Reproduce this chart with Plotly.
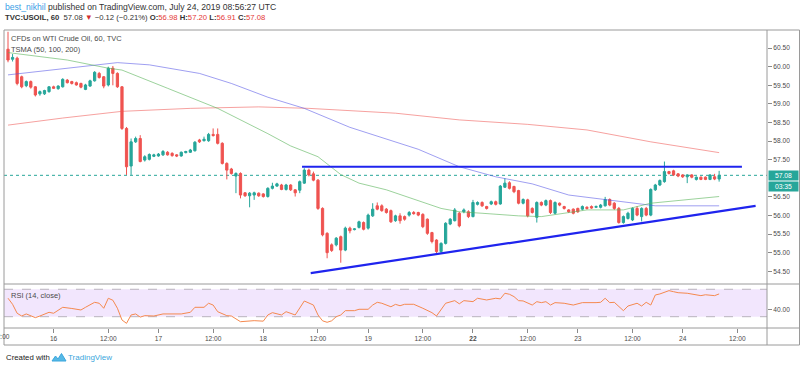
import plotly.graph_objects as go

# ---------------- data (hourly bars, index 0 = Jul 15 13:00 UTC) ----------------
opens = [60.47, 60.20, 60.23, 59.73, 59.49, 59.60, 59.46, 59.27, 59.27, 59.33,
         59.46, 59.41, 59.46, 59.64, 59.60, 59.57, 59.55, 59.39, 59.48, 59.62,
         59.82, 59.73, 59.51, 59.96, 59.82, 59.46, 58.34, 57.33, 57.98, 58.07,
         57.49, 57.51, 57.59, 57.60, 57.63, 57.70, 57.67, 57.63, 57.60, 57.69,
         57.70, 57.74, 58.03, 58.01, 58.01, 58.18, 58.18, 57.94, 57.40, 57.25,
         57.06, 57.13, 56.61, 56.53, 56.55, 56.60, 56.58, 56.51, 56.73, 56.79,
         56.82, 56.70, 56.82, 56.69, 56.68, 56.87, 57.22, 57.12, 56.95, 56.19,
         55.52, 55.21, 55.21, 55.43, 55.07, 55.66, 55.62, 55.68, 55.81, 55.66,
         55.99, 56.26, 56.26, 56.17, 56.13, 55.86, 55.99, 55.97, 56.01, 56.08,
         56.08, 56.03, 55.90, 55.54, 55.34, 55.03, 55.25, 55.77, 55.86, 56.06,
         56.10, 56.10, 55.97, 56.30, 56.35, 56.24, 56.31, 56.37, 56.31, 56.76,
         56.88, 56.78, 56.67, 56.33, 56.42, 56.19, 55.95, 56.35, 56.28, 56.40,
         56.06, 56.33, 56.24, 56.15, 56.17, 56.19, 56.17, 56.22, 56.24, 56.22,
         56.22, 56.26, 56.43, 56.33, 56.19, 55.81, 55.92, 55.88, 56.19, 55.97,
         56.19, 56.01, 56.69, 56.82, 56.91, 57.18, 57.20, 57.12, 57.09, 57.04,
         57.09, 56.97, 57.03, 57.03, 56.97, 57.04, 56.98]
highs = [60.94, 60.34, 60.27, 59.76, 59.63, 59.63, 59.48, 59.36, 59.38, 59.48,
         59.49, 59.50, 59.69, 59.67, 59.62, 59.60, 59.57, 59.54, 59.65, 59.88,
         59.86, 59.75, 60.00, 60.02, 59.85, 59.48, 58.38, 58.07, 58.12, 58.16,
         57.62, 57.67, 57.66, 57.68, 57.76, 57.73, 57.70, 57.65, 57.72, 57.74,
         57.79, 58.00, 58.06, 58.12, 58.22, 58.34, 58.34, 57.97, 57.43, 57.28,
         57.16, 57.16, 56.63, 56.63, 56.64, 56.62, 56.60, 56.76, 56.88, 56.88,
         56.85, 56.85, 56.84, 56.71, 56.94, 57.27, 57.26, 57.18, 56.98, 56.22,
         55.55, 55.25, 55.42, 55.46, 55.70, 55.70, 55.66, 55.86, 55.84, 56.05,
         56.33, 56.35, 56.30, 56.20, 56.16, 56.02, 56.06, 56.00, 56.12, 56.12,
         56.10, 56.06, 55.92, 55.56, 55.36, 55.28, 55.82, 55.93, 56.20, 56.10,
         56.19, 56.14, 56.42, 56.38, 56.38, 56.26, 56.40, 56.40, 56.82, 57.00,
         56.92, 56.80, 56.69, 56.46, 56.45, 56.22, 56.38, 56.38, 56.43, 56.43,
         56.38, 56.35, 56.26, 56.17, 56.19, 56.21, 56.27, 56.25, 56.27, 56.27,
         56.31, 56.50, 56.46, 56.36, 56.23, 56.00, 56.10, 56.22, 56.25, 56.22,
         56.23, 56.73, 56.85, 56.97, 57.45, 57.20, 57.23, 57.14, 57.11, 57.11,
         57.11, 57.05, 57.05, 57.05, 57.11, 57.12, 57.20]
lows = [60.12, 60.14, 59.50, 59.42, 59.45, 59.41, 59.20, 59.22, 59.24, 59.30,
        59.40, 59.38, 59.44, 59.55, 59.52, 59.49, 59.42, 59.37, 59.46, 59.60,
        59.68, 59.42, 59.47, 59.50, 59.43, 58.30, 57.09, 57.09, 57.95, 57.43,
        57.45, 57.48, 57.57, 57.58, 57.60, 57.61, 57.58, 57.57, 57.58, 57.67,
        57.68, 57.72, 57.95, 57.99, 57.98, 58.12, 57.91, 57.37, 56.97, 57.10,
        56.60, 56.46, 56.50, 56.22, 56.42, 56.50, 56.48, 56.48, 56.70, 56.77,
        56.68, 56.67, 56.66, 56.51, 56.60, 56.85, 57.05, 56.92, 56.15, 55.44,
        54.85, 55.02, 55.17, 54.73, 55.04, 55.52, 55.60, 55.65, 55.60, 55.62,
        55.96, 56.14, 56.10, 56.05, 55.80, 55.83, 55.78, 55.86, 55.97, 56.02,
        55.98, 55.66, 55.48, 55.25, 54.98, 54.99, 55.22, 55.74, 55.84, 55.68,
        56.06, 55.93, 55.95, 56.27, 56.23, 56.16, 56.28, 56.27, 56.29, 56.74,
        56.70, 56.60, 56.30, 56.30, 55.95, 56.05, 55.81, 56.25, 56.25, 56.04,
        56.03, 56.25, 56.16, 56.07, 56.03, 56.07, 56.14, 56.16, 56.18, 56.20,
        56.19, 56.24, 56.25, 56.15, 55.78, 55.78, 55.89, 55.85, 55.98, 55.84,
        55.98, 55.98, 56.66, 56.79, 56.88, 57.10, 57.06, 57.03, 57.01, 56.87,
        57.00, 56.94, 56.95, 56.95, 56.95, 56.95, 56.91]
closes = [60.18, 60.25, 59.55, 59.46, 59.60, 59.45, 59.24, 59.33, 59.36, 59.46,
          59.42, 59.48, 59.66, 59.57, 59.55, 59.51, 59.45, 59.51, 59.62, 59.85,
          59.71, 59.48, 59.96, 59.82, 59.46, 58.34, 57.31, 57.98, 58.07, 57.45,
          57.58, 57.64, 57.63, 57.65, 57.72, 57.63, 57.61, 57.60, 57.70, 57.72,
          57.76, 57.97, 57.98, 58.05, 58.18, 58.15, 57.94, 57.40, 57.22, 57.13,
          57.13, 56.55, 56.53, 56.60, 56.61, 56.53, 56.51, 56.73, 56.79, 56.85,
          56.70, 56.82, 56.69, 56.61, 56.91, 57.22, 57.09, 56.95, 56.19, 55.48,
          55.00, 55.06, 55.39, 55.07, 55.66, 55.59, 55.64, 55.83, 55.63, 56.01,
          56.17, 56.17, 56.13, 56.08, 55.83, 55.99, 55.86, 55.90, 56.08, 56.05,
          56.01, 55.70, 55.52, 55.30, 55.03, 55.25, 55.79, 55.90, 56.15, 55.72,
          56.15, 55.97, 56.35, 56.35, 56.26, 56.19, 56.37, 56.30, 56.79, 56.87,
          56.73, 56.64, 56.33, 56.43, 55.99, 56.08, 56.35, 56.28, 56.40, 56.08,
          56.35, 56.28, 56.19, 56.10, 56.06, 56.10, 56.24, 56.19, 56.20, 56.24,
          56.28, 56.43, 56.28, 56.19, 55.81, 55.97, 56.06, 56.19, 56.01, 56.19,
          56.01, 56.70, 56.82, 56.94, 57.18, 57.13, 57.09, 57.06, 57.04, 57.09,
          57.03, 57.03, 56.97, 56.97, 57.09, 56.98, 57.08]

# moving averages read at selected bars
sma50_idx = [0, 13, 22, 25, 35, 46, 57, 62, 68, 73, 77, 83, 95, 99, 104, 112, 117, 123, 127, 135, 141, 156]
sma50_val = [60.38, 60.18, 59.96, 59.91, 59.42, 58.88, 58.20, 57.87, 57.58, 57.10, 56.87, 56.69,
             56.19, 56.10, 56.06, 55.99, 55.97, 56.09, 56.15, 56.15, 56.33, 56.51]
sma100_idx = [0, 13, 20, 24, 31, 42, 49, 57, 65, 75, 90, 99, 107, 115, 123, 131, 142, 156]
sma100_val = [59.78, 59.96, 60.05, 60.11, 60.05, 59.82, 59.55, 59.18, 58.88, 58.37, 57.78, 57.31,
              57.04, 56.85, 56.55, 56.42, 56.26, 56.26]
sma200_idx = [0, 12, 25, 40, 55, 66, 85, 99, 114, 127, 141, 156]
sma200_val = [58.43, 58.62, 58.80, 58.88, 58.92, 58.88, 58.75, 58.57, 58.45, 58.30, 57.98, 57.69]

# RSI(14) read at selected bars
rsi_idx = [0, 1, 2, 3, 4, 5, 6, 7, 9, 10, 12, 14, 16, 17, 19, 20, 21, 22, 23, 24, 25, 26, 27, 28,
           29, 30, 32, 34, 38, 40, 41, 43, 44, 45, 46, 48, 49, 51, 54, 56, 57, 58, 60, 61, 63, 65,
           67, 68, 69, 70, 71, 72, 73, 74, 76, 77, 79, 80, 81, 82, 84, 85, 86, 87, 89, 91, 93, 94,
           95, 96, 98, 99, 100, 102, 103, 105, 107, 108, 109, 110, 111, 112, 113, 115, 116, 117,
           118, 119, 120, 122, 124, 126, 129, 130, 131, 132, 133, 135, 136, 138, 139, 140, 141,
           142, 143, 145, 146, 147, 149, 150, 152, 153, 155, 156]
rsi_val = [57.0, 48.1, 35.0, 31.0, 34.0, 31.0, 28.6, 31.0, 36.4, 35.0, 43.7, 42.0, 39.8, 43.7, 51.0,
           49.6, 42.3, 56.9, 54.0, 42.3, 25.2, 20.3, 32.5, 34.0, 29.4, 31.5, 31.0, 34.0, 34.0, 36.4,
           43.7, 43.7, 49.6, 47.0, 37.3, 31.5, 31.0, 22.7, 24.2, 23.5, 32.5, 35.9, 32.5, 37.3, 32.5,
           52.9, 47.0, 32.5, 24.0, 21.8, 24.0, 30.0, 32.5, 38.8, 38.8, 40.8, 40.8, 47.0, 51.0, 49.6,
           44.5, 48.0, 46.0, 48.1, 48.1, 42.3, 35.9, 31.0, 39.8, 49.6, 53.4, 48.8, 53.4, 52.0, 56.9,
           54.4, 56.9, 56.0, 64.2, 62.7, 59.3, 53.4, 53.0, 47.0, 51.9, 50.5, 51.9, 47.0, 50.5, 49.6,
           47.0, 50.5, 50.5, 51.0, 56.9, 50.5, 51.0, 38.8, 45.6, 49.6, 45.6, 51.0, 47.0, 61.7, 63.2,
           68.0, 66.5, 65.0, 64.2, 62.7, 60.7, 62.0, 60.7, 63.2]

# drawn trend lines (bar index, price)
resist_idx = [64.5, 161.0]
resist_val = [57.31, 57.31]
support_idx = [66.4, 164.0]
support_val = [54.45, 56.26]

last_price = 57.08
price_ticks = [54.5, 55.0, 55.5, 56.0, 56.5, 57.5, 58.0, 58.5, 59.0, 59.5, 60.0, 60.5]
time_tick_idx = [10, 22, 33, 45, 56, 68, 79, 91, 102, 114, 125, 137, 148, 160]
time_tick_text = ["16", "12:00", "17", "12:00", "18", "12:00", "19", "12:00", "<b>22</b>",
                  "12:00", "23", "12:00", "24", "12:00"]

# ---------------- layout helpers ----------------
W, H = 800, 368
PL, PR, PT, PB = 4, 767, 30, 328       # plot area in pixels
SPLIT = 284                            # pane separator
FONT = "Liberation Sans, Arial, sans-serif"
GREY = "#4a4a4a"
UP, DN = "#26a69a", "#ef5350"


def px(x):
    return (x - PL) / (PR - PL)


def py(y):
    return (PB - y) / (PB - PT)


xs = list(range(len(closes)))

fig = go.Figure()
fig.add_trace(go.Candlestick(
    x=xs, open=opens, high=highs, low=lows, close=closes,
    increasing=dict(line=dict(color=UP, width=1), fillcolor=UP),
    decreasing=dict(line=dict(color=DN, width=1), fillcolor=DN),
    whiskerwidth=0, xaxis="x", yaxis="y", hoverinfo="skip", showlegend=False))

for idx, val, col in [(sma200_idx, sma200_val, "rgba(239,83,80,0.55)"),
                      (sma100_idx, sma100_val, "rgba(80,80,230,0.55)"),
                      (sma50_idx, sma50_val, "rgba(90,180,90,0.6)")]:
    fig.add_trace(go.Scatter(x=idx, y=val, mode="lines", line=dict(color=col, width=1),
                             xaxis="x", yaxis="y", hoverinfo="skip", showlegend=False))

for idx, val in [(resist_idx, resist_val), (support_idx, support_val)]:
    fig.add_trace(go.Scatter(x=idx, y=val, mode="lines", line=dict(color="#1f24ee", width=2.2),
                             xaxis="x", yaxis="y", hoverinfo="skip", showlegend=False,
                             cliponaxis=False))

fig.add_trace(go.Scatter(x=rsi_idx, y=rsi_val, mode="lines",
                         line=dict(color="#f5894f", width=1),
                         xaxis="x", yaxis="y2", hoverinfo="skip", showlegend=False))

dom_split = py(SPLIT)
shapes = [
    # RSI band
    dict(type="rect", xref="paper", yref="y2", x0=0, x1=1, y0=30, y1=70,
         fillcolor="#f2e6fd", line=dict(width=0), layer="below"),
    dict(type="line", xref="paper", yref="y2", x0=0, x1=1, y0=70, y1=70,
         line=dict(color="#b9b3bd", width=1, dash="dash"), layer="below"),
    dict(type="line", xref="paper", yref="y2", x0=0, x1=1, y0=30, y1=30,
         line=dict(color="#b9b3bd", width=1, dash="dash"), layer="below"),
    # last price dotted line
    dict(type="line", xref="paper", yref="y", x0=0, x1=1, y0=last_price, y1=last_price,
         line=dict(color=UP, width=1, dash="dot"), layer="below"),
]
FR = "#9a9a9a"
for (x0, y0, x1, y1) in [(PL, PT, 799.5, PT), (PL, PT, PL, 345), (799.5, PT, 799.5, 345),
                         (PL, 345, 799.5, 345), (PR, PT, PR, 345), (PL, SPLIT, 799.5, SPLIT),
                         (PL, PB, 799.5, PB)]:
    shapes.append(dict(type="line", xref="paper", yref="paper", x0=px(x0), y0=py(y0),
                       x1=px(x1), y1=py(y1), line=dict(color=FR, width=1)))
# TradingView logo (simplified)
lp = [(52, 361), (55.5, 356), (58, 359), (61.5, 353.5), (66, 361)]
path = "M " + " L ".join(f"{px(a):.5f},{py(b):.5f}" for a, b in lp) + " Z"
shapes.append(dict(type="path", xref="paper", yref="paper", path=path,
                   fillcolor="#57b9e6", line=dict(color="#3aa6dd", width=1)))

ann = []


def text(x, y, s, size=8, color=GREY, anchor="left", **kw):
    ann.append(dict(x=px(x), y=py(y), xref="paper", yref="paper", text=s, showarrow=False,
                    xanchor=anchor, yanchor="middle", font=dict(family=FONT, size=size, color=color),
                    **kw))


text(2.5, 7, "<span style='color:#3ba0e6'>best_nikhil</span> published on TradingView.com, "
     "July 24, 2019 08:56:27 UTC", size=8.6, color="#333")
text(2.5, 17.5, "<b>TVC:USOIL, 60</b>  57.08 <span style='color:#d32f2f'>▼</span> −0.12 (−0.21%) "
     "<b>O:</b><span style='color:#e53935'>56.98</span> <b>H:</b><span style='color:#e53935'>57.20</span> "
     "<b>L:</b><span style='color:#e53935'>56.91</span> <b>C:</b><span style='color:#e53935'>57.08</span>",
     size=7.7, color="#333")
text(8.5, 38.5, "CFDs on WTI Crude Oil, 60, TVC", size=7.5)
text(8.5, 49.5, "TSMA (50, 100, 200)", size=7.5)
text(8.5, 295, "RSI (14, close)", size=7.5)
text(1.0, 336.5, "12:00", size=6.6, anchor="center")
text(4, 357.5, "Created with", size=7.8, color="#222")
text(66, 357.5, "TradingView", size=8, color="#3aa6dd")
# price axis badges
text(783.5, 175.5, "57.08", size=6.8, color="white", anchor="center", bgcolor=UP,
     width=29, height=9, borderpad=0)
text(783.5, 186, "03:35", size=6.8, color="white", anchor="center", bgcolor=UP,
     width=29, height=9, borderpad=0)

fig.update_layout(
    width=W, height=H, margin=dict(l=PL, r=W - PR, t=PT, b=H - PB),
    paper_bgcolor="white", plot_bgcolor="white", showlegend=False,
    font=dict(family=FONT, size=7, color=GREY),
    xaxis=dict(domain=[0, 1], range=[-0.88, 166.5], anchor="y2", tickvals=time_tick_idx,
               ticktext=time_tick_text, ticks="outside", ticklen=4, tickcolor="#8a8a8a",
               showgrid=False, zeroline=False, showline=False, rangeslider=dict(visible=False),
               tickfont=dict(size=6.6, color=GREY, family=FONT)),
    yaxis=dict(domain=[dom_split, 1], range=[54.158, 60.987], side="right", anchor="x",
               tickvals=price_ticks, tickformat=".2f", ticks="outside", ticklen=4,
               tickcolor="#8a8a8a", showgrid=False, zeroline=False, showline=False,
               tickfont=dict(size=6.6, color=GREY, family=FONT)),
    yaxis2=dict(domain=[0, dom_split], range=[13.5, 77.7], side="right", anchor="x",
                tickvals=[40], ticktext=["40.00"], ticks="outside", ticklen=4,
                tickcolor="#8a8a8a", showgrid=False, zeroline=False, showline=False,
                tickfont=dict(size=6.6, color=GREY, family=FONT)),
    shapes=shapes, annotations=ann,
)

fig.write_html("out.html", config={"staticPlot": True},
               post_script="document.body.style.margin='0';document.body.style.overflow='hidden';")
